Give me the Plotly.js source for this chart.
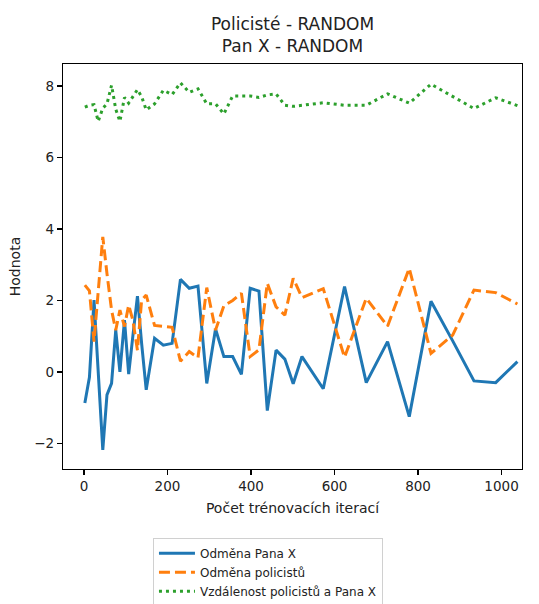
<!DOCTYPE html>
<html>
<head>
<meta charset="utf-8">
<script src="https://cdn.plot.ly/plotly-3.0.1.min.js"></script>
<style>html,body{margin:0;padding:0;background:#fff;}#chart{width:539px;height:604px;}</style>
</head>
<body>
<div id="chart"></div>
<script>
// iteration positions
const iterations = [2, 13, 24, 34, 45, 55, 66, 76, 86, 97, 107, 117, 128, 138, 149,
  169, 190, 211, 231, 252, 273, 294, 315, 335, 356, 377, 398, 419, 439, 460, 481, 501, 522,
  573, 624, 676, 727, 779, 831, 883, 934, 986, 1038];

const rewardPanX = [-0.87, -0.15, 2.01, -0.05, -2.18, -0.64, -0.32, 1.17, 0.0, 1.45, -0.06, 1.0, 2.12, 0.8, -0.5,
  0.94, 0.75, 0.8, 2.59, 2.34, 2.4, -0.32, 1.2, 0.43, 0.43, -0.07, 2.34, 2.26, -1.08, 0.61, 0.36, -0.33, 0.43,
  -0.47, 2.39, -0.3, 0.85, -1.25, 1.98, 0.87, -0.25, -0.3, 0.29];

const rewardPolice = [2.43, 2.27, 0.85, 2.3, 3.78, 2.75, 1.73, 1.17, 1.73, 1.27, 1.87, 1.45, 0.61, 2.01, 2.15,
  1.3, 1.28, 1.25, 0.3, 0.57, 0.4, 2.36, 1.17, 1.85, 2.0, 2.2, 0.43, 0.62, 2.48, 1.82, 1.59, 2.62, 2.08,
  2.33, 0.41, 2.06, 1.28, 2.9, 0.52, 1.03, 2.29, 2.22, 1.9];

const distance = [7.41, 7.46, 7.48, 7.01, 7.38, 7.5, 8.02, 7.35, 7.01, 7.68, 7.52, 7.71, 7.9, 7.7, 7.33,
  7.5, 7.88, 7.76, 8.09, 7.82, 7.92, 7.5, 7.5, 7.22, 7.72, 7.72, 7.72, 7.68, 7.75, 7.78, 7.46, 7.43, 7.46,
  7.53, 7.46, 7.46, 7.78, 7.52, 8.05, 7.71, 7.37, 7.67, 7.45];

const seriesNames = ["Odměna Pana X", "Odměna policistů", "Vzdálenost policistů a Pana X"];
const xTicks = [0, 200, 400, 600, 800, 1000];
const yTicks = [-2, 0, 2, 4, 6, 8];

const font = "DejaVu Sans, sans-serif";

const traces = [
  {x: iterations, y: rewardPanX, name: seriesNames[0], legendgroup: "a", type: "scatter", mode: "lines",
   line: {color: "#1f77b4", width: 3}},
  {x: iterations, y: rewardPolice, name: seriesNames[1], legendgroup: "b", type: "scatter", mode: "lines",
   line: {color: "#ff7f0e", width: 3, dash: "11px,5px"}},
  {x: iterations, y: distance, name: seriesNames[2], legendgroup: "c", type: "scatter", mode: "lines",
   line: {color: "#2ca02c", width: 3, dash: "3px,4px"}}
];

const axisCommon = {
  showgrid: false, zeroline: false, showline: true, mirror: true, automargin: false,
  linecolor: "#000", linewidth: 1.2, ticks: "outside", ticklen: 5, tickwidth: 1.2, tickcolor: "#000",
  tickfont: {family: font, size: 13.5, color: "#222"}
};

const layout = {
  width: 539, height: 604,
  margin: {l: 63, r: 17, t: 64, b: 135, autoexpand: false},
  paper_bgcolor: "#fff", plot_bgcolor: "#fff",
  font: {family: font, color: "#222"},
  title: {text: "Policisté - RANDOM<br>Pan X - RANDOM", font: {family: font, size: 17, color: "#222"},
          xref: "paper", x: 0.5, xanchor: "center", yref: "container", y: 0.950, yanchor: "top"},
  xaxis: Object.assign({}, axisCommon, {
    range: [-50.3, 1049], tickvals: xTicks, ticktext: xTicks.map(String),
    title: {text: "Počet trénovacích iterací", font: {family: font, size: 14, color: "#222"}, standoff: 9}
  }),
  yaxis: Object.assign({}, axisCommon, {
    range: [-2.715, 8.615], tickvals: yTicks, ticktext: yTicks.map(v => v < 0 ? "\u2212" + Math.abs(v) : String(v)),
    title: {text: "Hodnota", font: {family: font, size: 14, color: "#222"}, standoff: 10}
  }),
  showlegend: true,
  legend: {x: 0.196, y: -0.17, xanchor: "left", yanchor: "top", bgcolor: "#fff",
           bordercolor: "#d0d0d0", borderwidth: 1, font: {family: font, size: 12, color: "#222"},
           tracegroupgap: 0, itemwidth: 36}
};

Plotly.newPlot("chart", traces, layout, {displayModeBar: false, staticPlot: true});
</script>
</body>
</html>
